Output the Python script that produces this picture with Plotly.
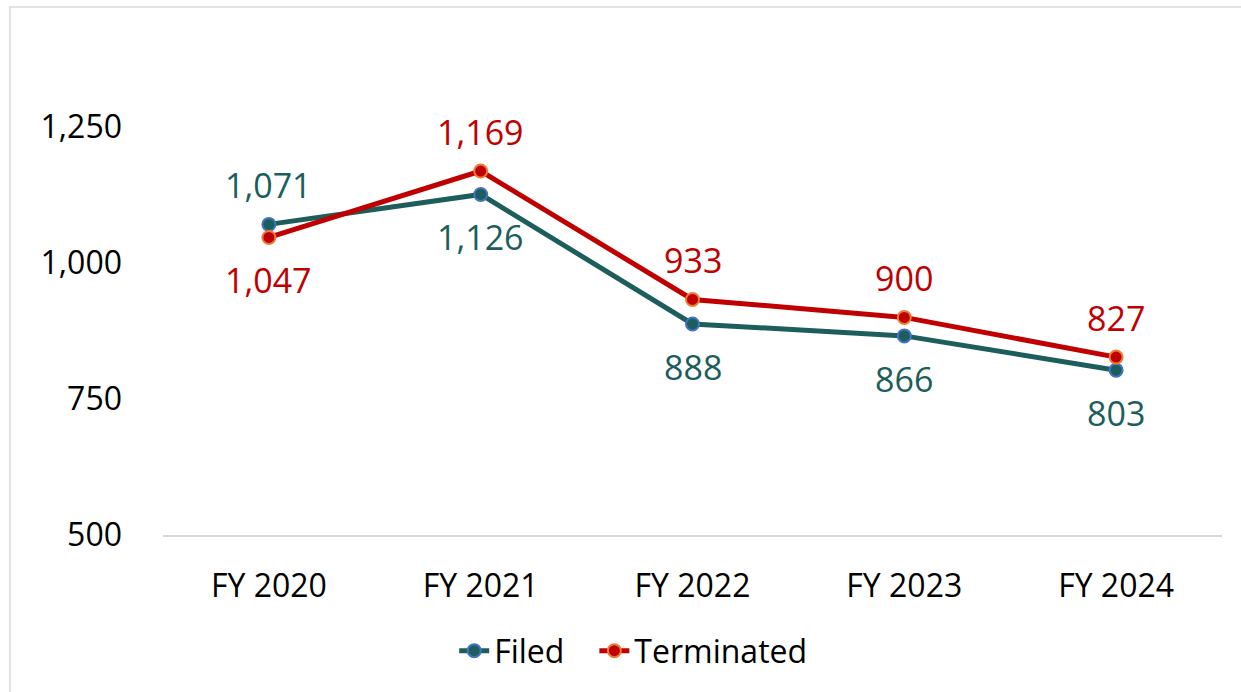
import plotly.graph_objects as go

categories = ["FY 2020", "FY 2021", "FY 2022", "FY 2023", "FY 2024"]
filed = [1071, 1126, 888, 866, 803]
terminated = [1047, 1169, 933, 900, 827]
filed_label_pos = ["above", "below", "below", "below", "below"]
term_label_pos = ["below", "above", "above", "above", "above"]
y_ticks = [500, 750, 1000, 1250]

FONT = "Open Sans"
FS = 32
LFS = 34
FILED_C = "#1B5E5B"
TERM_C = "#C00000"

fig = go.Figure()
fig.add_trace(go.Scatter(
    x=categories, y=filed, name="Filed\u00a0\u00a0\u00a0", mode="lines+markers",
    line=dict(color=FILED_C, width=5),
    marker=dict(size=13, color=FILED_C, line=dict(color="#4472C4", width=2)),
))
fig.add_trace(go.Scatter(
    x=categories, y=terminated, name="Terminated", mode="lines+markers",
    line=dict(color=TERM_C, width=5),
    marker=dict(size=13, color=TERM_C, line=dict(color="#ED7D31", width=2)),
))

for cat, v, pos in zip(categories, filed, filed_label_pos):
    fig.add_annotation(x=cat, y=v, text=f"{v:,}", showarrow=False,
                       yshift=39 if pos == "above" else -43,
                       font=dict(family=FONT, size=LFS, color=FILED_C))
for cat, v, pos in zip(categories, terminated, term_label_pos):
    fig.add_annotation(x=cat, y=v, text=f"{v:,}", showarrow=False,
                       yshift=39 if pos == "above" else -43,
                       font=dict(family=FONT, size=LFS, color=TERM_C))

fig.add_shape(type="rect", xref="paper", yref="paper",
              x0=-0.1445, x1=1.2, y0=-0.6, y1=1.294,
              line=dict(color="#D9D9D9", width=1.5), layer="below")

fig.update_layout(
    width=1241, height=692,
    margin=dict(l=163, r=19, t=127, b=157),
    paper_bgcolor="white", plot_bgcolor="white",
    font=dict(family=FONT, size=FS, color="#000000"),
    showlegend=True,
    legend=dict(orientation="h", x=0.444, xanchor="center", y=-0.284, yanchor="middle",
                font=dict(family=FONT, size=FS, color="#000000"),
                tracegroupgap=0),
)
fig.update_xaxes(
    range=[-0.5, 4.5], showgrid=False, showline=True, linecolor="#D9D9D9",
    linewidth=1.5, ticks="", ticklabelstandoff=22,
    tickfont=dict(family=FONT, size=FS, color="#000000"),
)
fig.update_yaxes(
    range=[500, 1250], tickvals=y_ticks, tickformat=",", showgrid=False,
    showline=False, zeroline=False, ticks="", ticklabelstandoff=40,
    tickfont=dict(family=FONT, size=FS, color="#000000"),
)

fig.write_html("out.html", config={"displayModeBar": False},
               post_script="document.body.style.margin='0';")
